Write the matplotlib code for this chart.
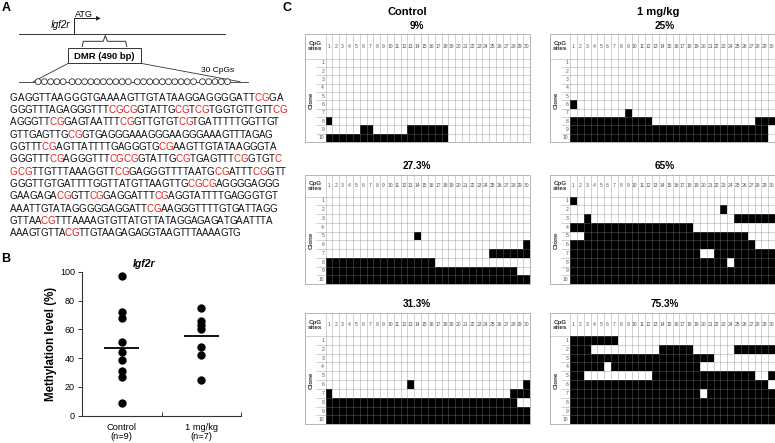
import numpy as np
import matplotlib
matplotlib.use('Agg')
import matplotlib.pyplot as plt
from matplotlib.patches import Rectangle, Circle, Polygon
from matplotlib.font_manager import FontProperties, findfont
from matplotlib.ft2font import FT2Font
try:
    from matplotlib.ft2font import LoadFlags
    NOHINT = LoadFlags.NO_HINTING
except ImportError:
    from matplotlib.ft2font import LOAD_NO_HINTING as NOHINT

plt.rcParams['font.family'] = ['Liberation Sans', 'DejaVu Sans']

W, H = 775, 443
RED = '#e0241f'

# ---------------- data ----------------
seq_lines = [
    "GAGGTTAAGGGTGAAAAGTTGTATAAGGAGGGGATTCGGA",
    "GGGTTTAGAGGGTTTCGCGGTATTGCGTCGTGGTGTTGTTCG",
    "AGGGTTCGGAGTAATTTCGGTTGTGTCGTGATTTTTGGTTGT",
    "GTTGAGTTGCGGTGAGGGAAAGGGAAGGGAAAGTTTAGAG",
    "GGTTTCGAGTTATTTTGAGGGTGCGAAGTTGTATAAGGGTA",
    "GGGTTTCGAGGGTTTCGCGGTATTGCGTGAGTTTCGGTGTC",
    "GCGTTGTTTAAAGGTTCGGAGGGTTTTAATGCGATTTCGGTT",
    "GGGTTGTGATTTTGGTTATGTTAAGTTGCGCGAGGGGAGGG",
    "GAAGAGACGGTTCGGAGGATTTCGAGGTATTTTGAGGGTGT",
    "AAATTGTATAGGGGGAGGATTCGAAGGGTTTTGTGATTAGG",
    "GTTAACGTTTAAAAGTGTTATGTTATAGGAGAGATGAATTTA",
    "AAAGTGTTACGTTGTAAGAGAGGTAAGTTTAAAAGTG",
]
n_cpg = 30
cpg_groups = [5, 10, 10, 5]

group_labels = ['Control\n(n=9)', '1 mg/kg\n(n=7)']
control_levels = [97, 72, 68, 51, 44, 39, 31, 27, 9]
treated_levels = [75, 66, 63, 60, 48, 42, 25]
group_means = [47, 55.5]
y_ticks = [0, 20, 40, 60, 80, 100]

n_sites = 30
n_clones = 10
column_headers = ['Control', '1 mg/kg']
grid_titles = ['9%', '25%', '27.3%', '65%', '31.3%', '75.3%']
# methylated CpG site runs (first, last) for clones 1..10
meth_9 = [[], [], [], [], [], [], [], [(1, 1)], [(6, 7), (13, 18)], [(1, 18)]]
meth_25 = [[], [], [], [], [], [(1, 1)], [(9, 9)], [(1, 12), (28, 30)], [(1, 29)], [(1, 29)]]
meth_27 = [[], [], [], [], [(14, 14)], [(30, 30)], [(25, 30)], [(1, 16)], [(1, 28)], [(1, 30)]]
meth_65 = [[(1, 1)], [(23, 23)], [(3, 3), (25, 30)], [(1, 18)], [(3, 26)], [(1, 27)],
           [(1, 19), (22, 30)], [(1, 23), (25, 30)], [(1, 30)], [(1, 30)]]
meth_31 = [[], [], [], [], [], [(13, 13), (30, 30)], [(1, 1), (28, 30)], [(1, 28)], [(1, 30)], [(1, 30)]]
meth_75 = [[(1, 7)], [(1, 3), (14, 18), (25, 30)], [(1, 21)], [(1, 5), (7, 19)],
           [(1, 2), (13, 27), (30, 30)], [(1, 29)], [(1, 19), (21, 30)], [(1, 30)], [(1, 30)], [(1, 30)]]
grids = [meth_9, meth_25, meth_27, meth_65, meth_31, meth_75]

# layout: right edge (px) of each sequence line in the original typesetting
seq_right_px = [283, 287, 279, 272, 276, 281, 286, 279, 277, 277, 272, 240]

# ---------------- figure ----------------
fig = plt.figure(figsize=(W / 100, H / 100), dpi=100)
ov = fig.add_axes([0, 0, 1, 1])
ov.set_xlim(0, W)
ov.set_ylim(H, 0)
ov.axis('off')


def px_axes(l, t, r, b):
    return fig.add_axes([l / W, 1 - b / H, (r - l) / W, (b - t) / H])


# panel labels
for lab, (x, y) in zip('ABC', [(6.5, 8), (5.5, 259), (287, 8)]):
    ov.text(x, y, lab, fontsize=9, fontweight='bold', ha='center', va='center')

# ---------------- Panel A diagram ----------------
ov.plot([19, 225], [34.3, 34.3], color='#333', lw=0.7)
ov.plot([74, 74, 96.5], [34.3, 18.3, 18.3], color='#222', lw=0.7)
ov.add_patch(Polygon([(96, 15.9), (100.8, 18.3), (96, 20.7)], closed=True, color='#222', lw=0))
ov.text(84, 14, 'ATG', fontsize=6.5, ha='center', va='center')
ov.text(60, 25, 'Igf2r', fontsize=7, style='italic', ha='center', va='center')
# brace
ov.plot([82.3, 83.3, 103.2, 105.3, 107.4, 125.7, 126.7],
        [46.5, 41.3, 41.3, 35.5, 41.3, 41.3, 46.5], color='#333', lw=0.7)
ov.add_patch(Rectangle((68.3, 48.3), 72.4, 15, fill=False, ec='#333', lw=0.7))
ov.text(104.5, 56, 'DMR (490 bp)', fontsize=6.8, fontweight='bold', ha='center', va='center')
ov.plot([68.3, 33.3], [63.3, 81.7], color='#333', lw=0.6)
ov.plot([140.7, 240], [63.3, 81.7], color='#333', lw=0.6)
ov.text(218, 70, '30 CpGs', fontsize=6, ha='center', va='center')
ov.plot([19, 248.3], [81.7, 81.7], color='#333', lw=0.6)
d = 6.25
gap = 2.7
x = 35
for g in cpg_groups:
    for _ in range(g):
        ov.add_patch(Circle((x + d / 2, 81.7), d / 2 - 0.2, fc='white', ec='#222', lw=0.55, zorder=3))
        x += d
    x += gap

# sequence with CpGs in red (each letter placed by its font advance)
seq_fp = FontProperties(family=['Liberation Sans'], size=7.0)
ft = FT2Font(findfont(seq_fp))
ft.set_size(7.0, 100)
advs = {c: ft.load_char(ord(c), flags=NOHINT).linearHoriAdvance / 65536.0 for c in 'ACGT'}

full = ''.join(seq_lines)
red = np.zeros(len(full), bool)
st = 0
while True:
    kk = full.find('CG', st)
    if kk < 0:
        break
    red[kk:kk + 2] = True
    st = kk + 1

pos = 0
x0 = 10.0
for li, line in enumerate(seq_lines):
    yb = 97 + li * 12.36 + 3.5
    natural = sum(advs[c] for c in line)
    scale = (seq_right_px[li] - x0) / natural
    xc = x0
    for ci, ch in enumerate(line):
        ov.text(xc, yb, ch, fontproperties=seq_fp,
                color=RED if red[pos + ci] else '#111', ha='left', va='baseline')
        xc += advs[ch] * scale
    pos += len(line)

# ---------------- Panel B ----------------
axB = px_axes(82, 271.7, 241, 415.7)
axB.set_xlim(0, 2)
axB.set_ylim(0, 100)
for s in ['top', 'right']:
    axB.spines[s].set_visible(False)
for s in ['left', 'bottom']:
    axB.spines[s].set_linewidth(0.8)
    axB.spines[s].set_color('#333')
xs = [0.5, 1.5]
axB.scatter([xs[0]] * len(control_levels), control_levels, s=36, color='black', zorder=3, lw=0)
axB.scatter([xs[1]] * len(treated_levels), treated_levels, s=36, color='black', zorder=3, lw=0)
axB.hlines(group_means, [xx - 0.22 for xx in xs], [xx + 0.22 for xx in xs], color='black', lw=1.3)
axB.set_yticks(y_ticks)
axB.set_yticklabels([str(v) for v in y_ticks], fontsize=6.5)
axB.tick_params(axis='y', direction='out', length=3, width=0.7, pad=2, color='#333')
axB.set_xticks([1, 2])
axB.set_xticklabels([])
axB.tick_params(axis='x', which='major', direction='in', length=3, width=0.7, color='#333')
axB.set_xticks(xs, minor=True)
axB.set_xticklabels(group_labels, minor=True, fontsize=6.7, linespacing=1.0)
axB.tick_params(axis='x', which='minor', length=0, pad=5)
ov.text(51, 343.7, 'Methylation level (%)', rotation=90, fontsize=8.3, fontweight='bold',
        ha='center', va='center')
ov.text(144, 264, 'Igf2r', fontsize=7.5, fontweight='bold', style='italic', ha='center', va='center')

# ---------------- Panel C ----------------
ov.text(407, 12, column_headers[0], fontsize=8, fontweight='bold', ha='center', va='center')
ov.text(658, 12, column_headers[1], fontsize=8, fontweight='bold', ha='center', va='center')

col_geom = [(305, 325.6, 530.2, 416.7), (550, 570, 775, 665)]
row_geom = [(34, 58.5, 142, 26), (175, 196.5, 284, 166), (313.3, 336, 424.3, 304)]


def to_matrix(runs):
    m = np.zeros((n_clones, n_sites))
    for i, rr in enumerate(runs):
        for a, b in rr:
            m[i, a - 1:b] = 1
    return m


for gi, (runs, title) in enumerate(zip(grids, grid_titles)):
    box_l, cell_l, cell_r, tx = col_geom[gi % 2]
    box_t, head_b, box_b, ty = row_geom[gi // 2]
    cw = (cell_r - cell_l) / n_sites
    rh = (box_b - head_b) / n_clones
    lw_u = (cell_l - box_l) / cw
    hh_u = (head_b - box_t) / rh
    ax = px_axes(box_l, box_t, cell_r, box_b)
    ax.set_xlim(-lw_u, n_sites)
    ax.set_ylim(n_clones, -hh_u)
    ax.axis('off')
    m = to_matrix(runs)
    ax.pcolormesh(np.arange(n_sites + 1), np.arange(n_clones + 1), m, cmap='binary',
                  vmin=0, vmax=1, shading='flat')
    gl = dict(color='#808080', alpha=0.5, lw=0.5)
    ax.vlines(np.arange(n_sites + 1), -hh_u, n_clones, **gl)
    ax.hlines(np.arange(1, n_clones), -1.35, n_sites, **gl)
    ax.hlines([0], -lw_u, n_sites, **gl)
    ax.add_patch(Rectangle((-lw_u, -hh_u), lw_u + n_sites, hh_u + n_clones, fill=False,
                           ec='#a8a8a8', lw=0.6, clip_on=False))
    for j in range(n_sites):
        ax.text(j + 0.5, -hh_u * 0.5, str(j + 1), fontsize=3.6, ha='center', va='center', color='#555')
    for i in range(n_clones):
        ax.text(-0.2, i + 0.5, str(i + 1), fontsize=3.6, ha='right', va='center', color='#555')
    ax.text(-lw_u / 2, -hh_u / 2, 'CpG\nsites', fontsize=4.5, fontweight='bold', ha='center',
            va='center', linespacing=1.0, color='#333')
    ax.text(-lw_u * 0.68, n_clones / 2, 'Clone', rotation=90, fontsize=4.5, fontweight='bold',
            ha='center', va='center', color='#333')
    ov.text(tx, ty, title, fontsize=7.2, fontweight='bold', ha='center', va='center')

fig.savefig('out.png', dpi=100)
